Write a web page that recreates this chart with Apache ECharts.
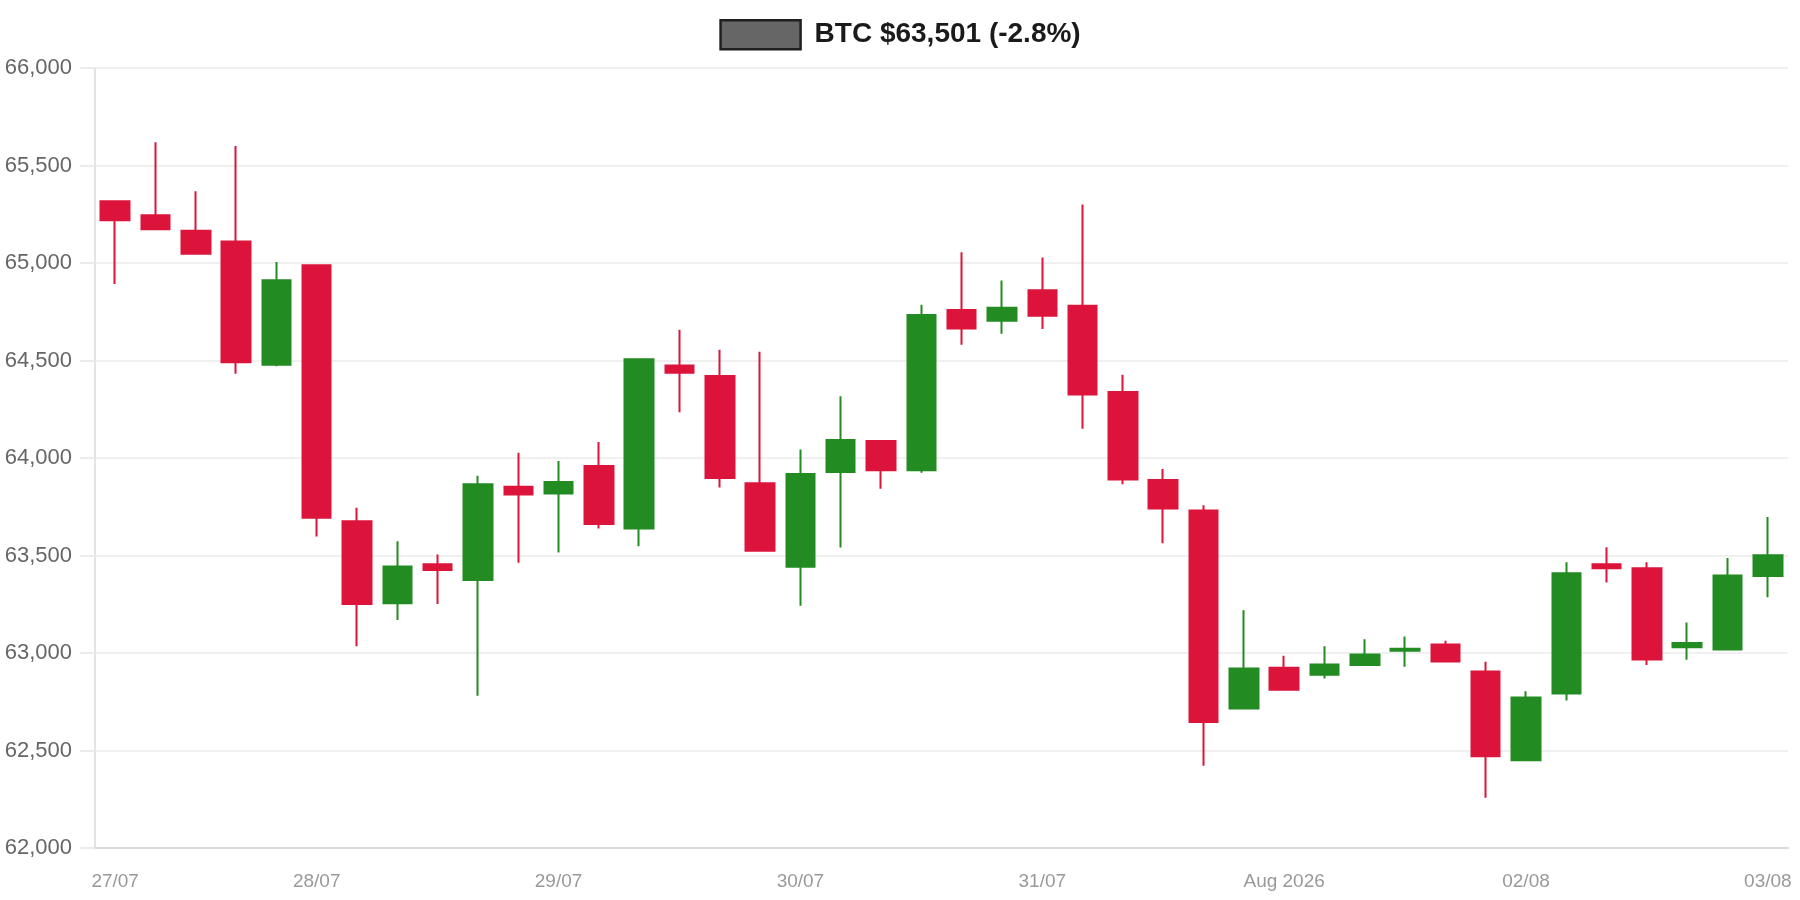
<!DOCTYPE html>
<html>
<head>
<meta charset="utf-8">
<script src="https://cdn.jsdelivr.net/npm/echarts@6/dist/echarts.min.js"></script>
<style>
html,body{margin:0;padding:0;background:#fff;}
#chart{width:1800px;height:900px;}
</style>
</head>
<body>
<div id="chart"></div>
<script>
// 4-hour candles, 27/07/2026 04:00 .. 03/08/2026 00:00
const times = [
 '27/07 04:00','27/07 08:00','27/07 12:00','27/07 16:00','27/07 20:00',
 '28/07 00:00','28/07 04:00','28/07 08:00','28/07 12:00','28/07 16:00','28/07 20:00',
 '29/07 00:00','29/07 04:00','29/07 08:00','29/07 12:00','29/07 16:00','29/07 20:00',
 '30/07 00:00','30/07 04:00','30/07 08:00','30/07 12:00','30/07 16:00','30/07 20:00',
 '31/07 00:00','31/07 04:00','31/07 08:00','31/07 12:00','31/07 16:00','31/07 20:00',
 '01/08 00:00','01/08 04:00','01/08 08:00','01/08 12:00','01/08 16:00','01/08 20:00',
 '02/08 00:00','02/08 04:00','02/08 08:00','02/08 12:00','02/08 16:00','02/08 20:00',
 '03/08 00:00'
];
const opens  = [65317,65245,65165,65110,64478,64988,63676,63255,63455,63375,63852,63818,63959,63638,64474,64421,63871,63442,63928,64087,63937,64759,64704,64860,64781,64338,63887,63731,62716,62924,62888,62939,63012,63044,62905,62450,62792,63455,63435,63029,63018,63395];
const closes = [65219,65173,65048,64491,64911,63693,63251,63443,63426,63866,63813,63877,63661,64507,64437,63897,63524,63918,64092,63937,64733,64664,64771,64730,64326,63890,63741,62646,62921,62811,62941,62992,63022,62957,62470,62772,63409,63434,62967,63051,63397,63501];
const lows   = [64892,65173,65048,64432,64471,63597,63035,63169,63251,62781,63463,63515,63638,63548,64235,63849,63520,63242,63541,63842,63925,64581,64637,64661,64150,63866,63563,62422,62716,62806,62869,62934,62929,62957,62258,62450,62756,63361,62938,62965,63013,63286];
const highs  = [65317,65619,65368,65600,65005,64990,63745,63573,63505,63909,64027,63985,64082,64507,64658,64555,64545,64043,64317,64087,64786,65055,64910,65028,65300,64427,63943,63758,63219,62986,63034,63070,63085,63063,62955,62804,63465,63542,63465,63157,63487,63698];
const tickIndex = [0,5,11,17,23,29,35,41];
const tickText  = ['27/07','28/07','29/07','30/07','31/07','Aug 2026','02/08','03/08'];
const seriesName = 'BTC $63,501 (-2.8%)';

const candles = opens.map((o,i)=>[o, closes[i], lows[i], highs[i]]);
const FONT = '"Liberation Sans", Arial, Helvetica, sans-serif';

const chart = echarts.init(document.getElementById('chart'), null, {renderer:'canvas'});
chart.setOption({
  animation:false,
  backgroundColor:'#ffffff',
  legend:{
    show:true,
    top:14,
    left:'center',
    itemWidth:80,
    itemHeight:29,
    itemGap:10,
    data:[{name:seriesName, icon:'rect'}],
    itemStyle:{color:'#666666', borderColor:'#1f1f1f', borderWidth:2.5},
    textStyle:{fontFamily:FONT, fontSize:28, fontWeight:'bold', color:'#1a1a1a', padding:[0,0,0,9]}
  },
  grid:{left:95, right:12, top:68, bottom:52, containLabel:false},
  xAxis:{
    type:'category',
    data:times,
    boundaryGap:true,
    axisLine:{show:true, lineStyle:{color:'#d9d9d9', width:2}},
    axisTick:{show:false},
    splitLine:{show:false},
    axisLabel:{
      interval:(idx)=>tickIndex.indexOf(idx)>=0,
      formatter:(val, idx)=>{const k=tickIndex.indexOf(idx); return k>=0?tickText[k]:'';},
      color:'#999999', fontFamily:FONT, fontSize:19, margin:24
    }
  },
  yAxis:{
    type:'value',
    min:62000, max:66000, interval:500,
    axisLine:{show:true, lineStyle:{color:'#e3e3e3', width:2}},
    axisTick:{show:true, length:15, lineStyle:{color:'#ebebeb', width:2}},
    splitLine:{show:true, lineStyle:{color:'#ebebeb', width:1.5}},
    axisLabel:{
      formatter:(v)=>v.toLocaleString('en-US'),
      color:'#666666', fontFamily:FONT, fontSize:22, margin:23
    }
  },
  series:[{
    name:seriesName,
    type:'candlestick',
    data:candles,
    barWidth:29,
    itemStyle:{
      color:'#228B22', color0:'#DC143C',
      borderColor:'#228B22', borderColor0:'#DC143C',
      borderWidth:2
    }
  }]
});
</script>
</body>
</html>
